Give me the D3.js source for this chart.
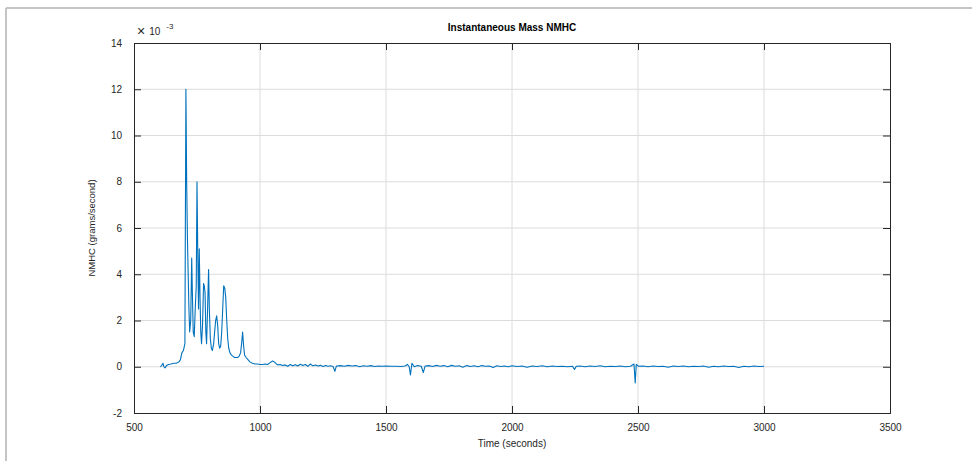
<!DOCTYPE html>
<html>
<head>
  <meta charset="utf-8" />
  <title>Instantaneous Mass NMHC</title>
  <style>
    body { margin: 0; background: #fff; }
    svg { display: block; font-family: "Liberation Sans", Arial, sans-serif; }
    .grid line { stroke: #dcdcdc; stroke-width: 1; }
    .tick text { fill: #262626; font-size: 10px; }
  </style>
  <script src="https://cdn.jsdelivr.net/npm/d3@7"></script>
</head>
<body>
  <div id="chart"></div>
  <script>
    // values in units of 1e-3 grams/second, [time s, value]
    var burst = [
      [605, 0.0], [610, 0.05], [615, 0.15], [619, 0.0], [623, -0.05], [629, 0.05],
      [637, 0.1], [647, 0.12], [657, 0.15], [667, 0.15], [677, 0.2], [684, 0.3],
      [690, 0.6], [696, 0.7], [702, 1.0], [706, 12.0], [709, 8.0], [712, 5.6],
      [715, 4.0], [718, 2.5], [721, 1.5], [725, 2.0], [729, 4.7], [732, 3.0],
      [735, 1.5], [739, 1.3], [743, 2.5], [747, 3.5], [750, 8.0], [753, 5.0],
      [756, 2.5], [759, 5.1], [762, 3.0], [765, 1.5], [768, 1.0], [772, 1.8],
      [776, 3.6], [779, 3.5], [782, 3.2], [785, 1.5], [788, 1.0], [792, 2.5],
      [796, 4.2], [799, 2.5], [803, 1.2], [807, 0.8], [811, 0.7], [816, 1.0],
      [820, 1.5], [824, 2.0], [828, 2.2], [832, 1.8], [836, 1.0], [840, 0.8],
      [844, 0.9], [848, 1.5], [852, 2.5], [856, 3.5], [860, 3.4], [864, 3.0],
      [868, 2.0], [872, 1.2], [876, 0.8], [881, 0.6], [887, 0.5], [893, 0.45],
      [899, 0.4], [905, 0.4], [911, 0.4], [917, 0.45], [923, 0.6], [927, 1.0],
      [931, 1.5], [935, 0.9], [939, 0.5], [945, 0.4], [953, 0.3], [961, 0.2],
      [970, 0.15], [980, 0.12], [990, 0.12], [1000, 0.1], [1010, 0.1], [1020, 0.12],
      [1030, 0.1], [1040, 0.18], [1050, 0.25], [1058, 0.2], [1065, 0.12]
    ];

    var tail = [
      [1070, 0.08], [1080, 0.1], [1090, 0.05], [1100, 0.08], [1110, 0.02], [1120, 0.1],
      [1130, 0.04], [1140, 0.09], [1150, 0.03], [1160, 0.11], [1170, 0.05], [1180, 0.1],
      [1190, 0.02], [1200, 0.12], [1210, 0.04], [1220, 0.08], [1230, 0.03], [1240, 0.06],
      [1250, 0.01], [1260, 0.05], [1270, 0.02], [1280, 0.04], [1290, 0.01], [1297, -0.2],
      [1303, 0.03], [1320, 0.05], [1335, 0.02], [1350, 0.06], [1365, 0.03], [1380, 0.05],
      [1395, 0.0], [1410, 0.04], [1425, 0.02], [1440, 0.05], [1455, 0.01], [1470, 0.03],
      [1485, 0.02], [1500, 0.03], [1520, 0.02], [1540, 0.02], [1560, 0.01], [1575, 0.03],
      [1585, 0.1], [1592, 0.0], [1597, -0.35], [1603, 0.15], [1612, 0.0], [1625, 0.05],
      [1640, 0.02], [1648, -0.25], [1655, 0.03], [1670, 0.05], [1685, 0.01], [1700, 0.06],
      [1715, 0.02], [1730, 0.05], [1745, 0.0], [1760, 0.06], [1775, 0.02], [1790, 0.04],
      [1805, -0.02], [1820, 0.05], [1835, 0.01], [1850, 0.04], [1865, 0.0], [1880, 0.05],
      [1895, 0.02], [1910, 0.03], [1925, -0.03], [1940, 0.04], [1955, 0.01], [1970, 0.03],
      [1985, 0.0], [2000, 0.04], [2020, 0.01], [2040, 0.03], [2060, -0.02], [2080, 0.03],
      [2100, 0.01], [2120, 0.04], [2140, 0.0], [2160, 0.03], [2180, 0.01], [2200, 0.02],
      [2220, 0.0], [2240, 0.02], [2248, -0.12], [2255, 0.02], [2270, 0.03], [2290, 0.0],
      [2310, 0.03], [2330, 0.01], [2350, 0.04], [2370, 0.0], [2390, 0.02], [2410, 0.01],
      [2430, 0.03], [2450, 0.0], [2470, 0.02], [2484, 0.12], [2489, -0.7], [2493, 0.1],
      [2502, 0.02], [2520, 0.03], [2540, 0.0], [2560, 0.03], [2580, 0.01], [2600, 0.02],
      [2620, -0.02], [2640, 0.03], [2660, 0.01], [2680, 0.03], [2700, 0.0], [2720, 0.02],
      [2740, 0.01], [2760, 0.03], [2780, -0.02], [2800, 0.02], [2820, 0.0], [2840, 0.03],
      [2860, 0.01], [2880, 0.02], [2900, -0.03], [2920, 0.02], [2940, 0.0], [2960, 0.03],
      [2980, 0.01], [3000, 0.02]
    ];

    var xTicks = [500, 1000, 1500, 2000, 2500, 3000, 3500];
    var yTicks = [-2, 0, 2, 4, 6, 8, 10, 12, 14];

    var W = 972, H = 461;
    var margin = { top: 43, right: 82, bottom: 48, left: 134 };
    var w = W - margin.left - margin.right,
      h = H - margin.top - margin.bottom;

    var data = burst.concat(tail);

    var xScale = d3.scaleLinear().domain([500, 3500]).range([0, w]);
    var yScale = d3.scaleLinear().domain([-2, 14]).range([h, 0]);

    var svg = d3.select('#chart').append('svg')
      .attr('width', W)
      .attr('height', H);

    // window frame
    svg.append('line').attr('x1', 6).attr('x2', W).attr('y1', 8).attr('y2', 8)
      .attr('stroke', '#c4c4c4').attr('stroke-width', 2);
    svg.append('line').attr('x1', 6).attr('x2', 6).attr('y1', 8).attr('y2', H)
      .attr('stroke', '#c4c4c4').attr('stroke-width', 2);

    var g = svg.append('g')
      .attr('transform', 'translate(' + margin.left + ',' + margin.top + ')');

    // grid
    g.append('g').attr('class', 'grid')
      .selectAll('line').data(xTicks.slice(1, -1)).enter().append('line')
      .attr('x1', d => xScale(d)).attr('x2', d => xScale(d))
      .attr('y1', 0).attr('y2', h);
    g.append('g').attr('class', 'grid')
      .selectAll('line').data(yTicks.slice(1, -1)).enter().append('line')
      .attr('x1', 0).attr('x2', w)
      .attr('y1', d => yScale(d)).attr('y2', d => yScale(d));

    // data line
    var line = d3.line()
      .x(d => xScale(d[0]))
      .y(d => yScale(d[1]));
    g.append('path')
      .datum(data)
      .attr('fill', 'none')
      .attr('stroke', '#0072BD')
      .attr('stroke-width', 1.1)
      .attr('stroke-linejoin', 'round')
      .attr('d', line);

    // axes (MATLAB box with inward ticks)
    var tl = 7;
    var plain = d => String(d);
    var xAxisB = d3.axisBottom(xScale).tickValues(xTicks).tickSize(-tl).tickPadding(tl + 4)
      .tickFormat(plain);
    var xAxisT = d3.axisTop(xScale).tickValues(xTicks).tickSize(-tl).tickFormat('');
    var yAxisL = d3.axisLeft(yScale).tickValues(yTicks).tickSize(-tl).tickPadding(tl + 5)
      .tickFormat(plain);
    var yAxisR = d3.axisRight(yScale).tickValues(yTicks).tickSize(-tl).tickFormat('');

    function styleAxis(sel) {
      sel.select('.domain').attr('stroke', '#262626').attr('stroke-width', 1);
      sel.selectAll('.tick line').attr('stroke', '#262626');
      sel.selectAll('.tick text').attr('font-family', '"Liberation Sans", Arial, sans-serif');
    }

    g.append('g').attr('transform', 'translate(0,' + h + ')').call(xAxisB).call(styleAxis);
    g.append('g').call(xAxisT).call(styleAxis);
    g.append('g').call(yAxisL).call(styleAxis);
    g.append('g').attr('transform', 'translate(' + w + ',0)').call(yAxisR).call(styleAxis);

    // exponent label
    var ex = g.append('text')
      .attr('x', 3).attr('y', -7)
      .attr('fill', '#262626').attr('font-size', 10);
    ex.append('tspan').attr('font-size', 14).attr('font-weight', 300).text('\u00d7');
    ex.append('tspan').attr('dx', 4).attr('dy', -1).text('10');
    ex.append('tspan').attr('font-size', 8).attr('dx', 6).attr('dy', -6).text('-3');

    // title
    svg.append('text')
      .attr('x', margin.left + w / 2).attr('y', 31)
      .attr('text-anchor', 'middle')
      .attr('font-size', 10).attr('font-weight', 'bold')
      .attr('fill', '#000')
      .text('Instantaneous Mass NMHC');

    // axis labels
    svg.append('text')
      .attr('x', margin.left + w / 2).attr('y', 447)
      .attr('text-anchor', 'middle')
      .attr('font-size', 10).attr('fill', '#262626')
      .text('Time (seconds)');

    svg.append('text')
      .attr('transform', 'translate(95,' + (margin.top + h / 2) + ') rotate(-90)')
      .attr('text-anchor', 'middle')
      .attr('font-size', 9.5).attr('fill', '#262626')
      .text('NMHC (grams/second)');
  </script>
</body>
</html>
